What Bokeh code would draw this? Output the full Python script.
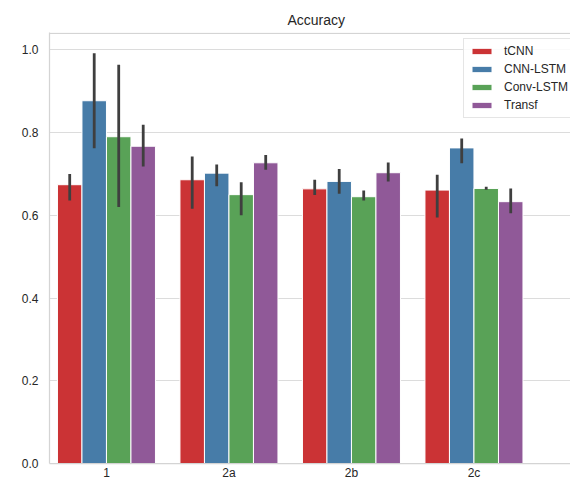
from bokeh.plotting import figure
from bokeh.models import Range1d, FixedTicker, Span, Legend, LegendItem, NumeralTickFormatter, ColumnDataSource
from bokeh.embed import file_html
from bokeh.resources import INLINE

categories = ["1", "2a", "2b", "2c"]
models = ["tCNN", "CNN-LSTM", "Conv-LSTM", "Transf"]
colors = ["#cb3335", "#477ca8", "#59a257", "#905998"]

tcnn = [0.674, 0.686, 0.664, 0.661]
tcnn_lo = [0.636, 0.616, 0.649, 0.595]
tcnn_hi = [0.700, 0.742, 0.686, 0.698]
cnn_lstm = [0.877, 0.702, 0.682, 0.763]
cnn_lstm_lo = [0.762, 0.670, 0.652, 0.726]
cnn_lstm_hi = [0.992, 0.723, 0.712, 0.786]
conv_lstm = [0.790, 0.650, 0.645, 0.665]
conv_lstm_lo = [0.620, 0.600, 0.636, 0.662]
conv_lstm_hi = [0.964, 0.680, 0.660, 0.669]
transf = [0.767, 0.727, 0.703, 0.633]
transf_lo = [0.718, 0.710, 0.682, 0.605]
transf_hi = [0.819, 0.746, 0.728, 0.665]

series = [
    (tcnn, tcnn_lo, tcnn_hi),
    (cnn_lstm, cnn_lstm_lo, cnn_lstm_hi),
    (conv_lstm, conv_lstm_lo, conv_lstm_hi),
    (transf, transf_lo, transf_hi),
]

FONT = "Liberation Sans"
TXT = "#262626"
GRID = "#dcdcdc"

p = figure(width=570, height=482, output_backend="svg", toolbar_location=None,
           x_range=Range1d(-0.465, 3.788), y_range=Range1d(0, 1.042),
           min_border_left=49, min_border_right=0, min_border_top=32, min_border_bottom=18)
p.outline_line_color = None
p.background_fill_color = "white"

bar_w = 0.2
items = []
for j, (name, color, (vals, lo, hi)) in enumerate(zip(models, colors, series)):
    xs = [i + (j - 1.5) * bar_w for i in range(len(categories))]
    src = ColumnDataSource(dict(x=xs, top=vals, lo=lo, hi=hi))
    r = p.vbar(x="x", top="top", bottom=0, width=bar_w, source=src,
               fill_color=color, line_color="white", line_width=1)
    p.segment(x0="x", y0="lo", x1="x", y1="hi", source=src,
              line_color="#3f3f3f", line_width=2.8)
    items.append(LegendItem(label=name, renderers=[r]))

# top spine
p.add_layout(Span(location=1.04, dimension="width", line_color="#d4d4d4", line_width=1.25))

legend = Legend(items=items, location=(414, 345))
legend.glyph_width = 25
legend.glyph_height = 8
legend.label_height = 14
legend.spacing = 4
legend.padding = 5
legend.margin = 0
legend.label_standoff = 10
legend.label_text_font = FONT
legend.label_text_font_size = "12px"
legend.label_text_color = TXT
legend.border_line_color = "#cccccc"
legend.border_line_width = 1
legend.background_fill_alpha = 0.85
p.add_layout(legend)

# axes
p.xaxis.ticker = FixedTicker(ticks=list(range(len(categories))))
p.xaxis.major_label_overrides = {i: c for i, c in enumerate(categories)}
p.yaxis.ticker = FixedTicker(ticks=[0.0, 0.2, 0.4, 0.6, 0.8, 1.0])
p.yaxis.formatter = NumeralTickFormatter(format="0.0")
for ax in (p.xaxis, p.yaxis):
    ax.axis_line_color = "#d4d4d4"
    ax.axis_line_width = 1.25
    ax.major_tick_line_color = None
    ax.minor_tick_line_color = None
    ax.major_tick_out = 0
    ax.major_tick_in = 0
    ax.minor_tick_out = 0
    ax.major_label_text_font = FONT
    ax.major_label_text_font_size = "12px"
    ax.major_label_text_color = TXT
p.yaxis.major_label_standoff = 11
p.xaxis.major_label_standoff = 2

p.xgrid.grid_line_color = None
p.ygrid.grid_line_color = GRID
p.ygrid.grid_line_width = 1

p.title.text = "Accuracy"
p.title.text_font = FONT
p.title.text_font_size = "14px"
p.title.text_font_style = "normal"
p.title.text_color = TXT
p.title.align = "left"
p.title.offset = 238

open("out.html", "w").write(file_html(p, INLINE))
